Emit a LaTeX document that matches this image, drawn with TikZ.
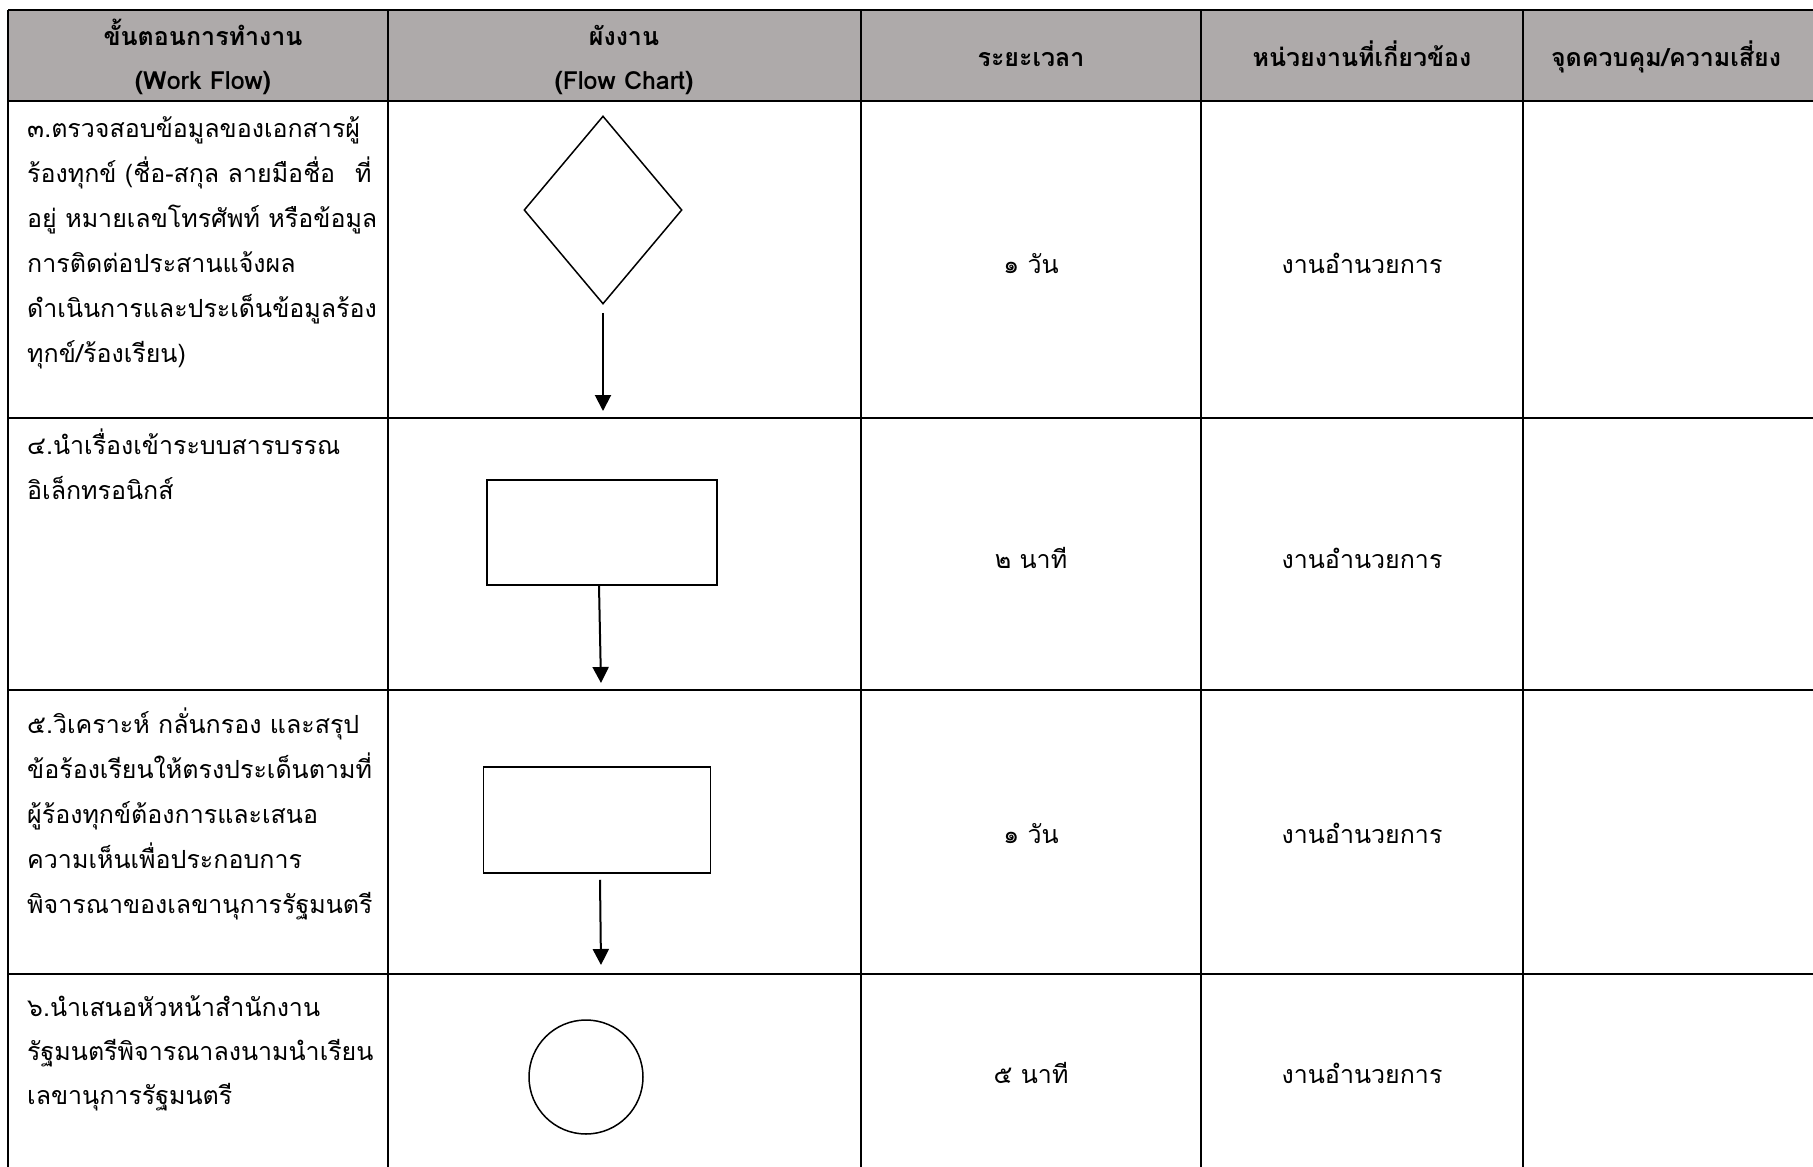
\documentclass[tikz,border=0pt]{standalone}
\usepackage{fontspec}
\newfontfamily\thaifont[Script=Thai]{Loma}
\usetikzlibrary{arrows.meta,shapes.geometric}
\definecolor{hdrgray}{HTML}{AEAAAA}
\tikzset{
  grid/.style={line width=2pt,black},
  txt/.style={font=\thaifont\fontsize{25}{45}\selectfont,inner sep=0pt,anchor=base west},
  ctxt/.style={font=\thaifont\fontsize{25}{45}\selectfont,inner sep=0pt,anchor=base},
  htxt/.style={font=\thaifont\bfseries\fontsize{25}{45}\selectfont,inner sep=0pt,anchor=base},
  shp/.style={draw,line width=1.5pt,inner sep=0pt},
  flow/.style={line width=2pt,-{Triangle[length=16pt,width=16pt]}}
}
\begin{document}
\begin{tikzpicture}[x=1pt,y=-1pt]
\useasboundingbox (0,0) rectangle (1813,1167);
% header
\fill[hdrgray] (8,9.5) rectangle (1813,101);
\draw[grid] (8,9.5) -- (1813,9.5);
\draw[grid] (8,101) -- (1813,101);
\draw[grid] (8,418) -- (1813,418);
\draw[grid] (8,690) -- (1813,690);
\draw[grid] (8,974) -- (1813,974);
\draw[grid] (8,9.5) -- (8,1167);
\draw[grid] (388,9.5) -- (388,1167);
\draw[grid] (861,9.5) -- (861,1167);
\draw[grid] (1201,9.5) -- (1201,1167);
\draw[grid] (1523,9.5) -- (1523,1167);
% header texts
\node[htxt] (h1a) at (203,45) {ขั้นตอนการทำงาน};
\node[htxt] (h1b) at (203,89) {(Work Flow)};
\node[htxt] (h2a) at (624,45) {ผังงาน};
\node[htxt] (h2b) at (624,89) {(Flow Chart)};
\node[htxt] (h3) at (1031,66) {ระยะเวลา};
\node[htxt] (h4) at (1362,66) {หน่วยงานที่เกี่ยวข้อง};
\node[htxt] (h5) at (1666,66) {จุดควบคุม/ความเสี่ยง};
% row 1 text
\node[txt] (r1a) at (27,137) {๓.ตรวจสอบข้อมูลของเอกสารผู้};
\node[txt] (r1b) at (27,182) {ร้องทุกข์ (ชื่อ-สกุล ลายมือชื่อ\hspace{20pt}ที่};
\node[txt] (r1c) at (27,227) {อยู่ หมายเลขโทรศัพท์ หรือข้อมูล};
\node[txt] (r1d) at (27,272) {การติดต่อประสานแจ้งผล};
\node[txt] (r1e) at (27,317) {ดำเนินการและประเด็นข้อมูลร้อง};
\node[txt] (r1f) at (27,362) {ทุกข์/ร้องเรียน)};
% row 2 text
\node[txt] (r2a) at (27,454) {๔.นำเรื่องเข้าระบบสารบรรณ};
\node[txt] (r2b) at (27,499) {อิเล็กทรอนิกส์};
% row 3 text
\node[txt] (r3a) at (27,733) {๕.วิเคราะห์ กลั่นกรอง และสรุป};
\node[txt] (r3b) at (27,778) {ข้อร้องเรียนให้ตรงประเด็นตามที่};
\node[txt] (r3c) at (27,823) {ผู้ร้องทุกข์ต้องการและเสนอ};
\node[txt] (r3d) at (27,868) {ความเห็นเพื่อประกอบการ};
\node[txt] (r3e) at (27,913) {พิจารณาของเลขานุการรัฐมนตรี};
% row 4 text
\node[txt] (r4a) at (27,1016) {๖.นำเสนอหัวหน้าสำนักงาน};
\node[txt] (r4b) at (27,1060) {รัฐมนตรีพิจารณาลงนามนำเรียน};
\node[txt] (r4c) at (27,1104) {เลขานุการรัฐมนตรี};
% time and unit
\node[ctxt] (t1) at (1031,273) {๑ วัน};
\node[ctxt] (t2) at (1031,568) {๒ นาที};
\node[ctxt] (t3) at (1031,843) {๑ วัน};
\node[ctxt] (t4) at (1031,1083) {๕ นาที};
\node[ctxt] (u1) at (1362,273) {งานอำนวยการ};
\node[ctxt] (u2) at (1362,568) {งานอำนวยการ};
\node[ctxt] (u3) at (1362,843) {งานอำนวยการ};
\node[ctxt] (u4) at (1362,1083) {งานอำนวยการ};
% shapes
\node[shp,diamond,minimum width=158pt,minimum height=188pt] (d1) at (603,210) {};
\node[shp,rectangle,minimum width=230pt,minimum height=105pt] (b1) at (602,532.5) {};
\node[shp,rectangle,minimum width=227pt,minimum height=106pt] (b2) at (597,820) {};
\node[shp,circle,minimum size=114pt] (c1) at (586,1077) {};
\coordinate (e1) at (603,411);
\coordinate (e2) at (601,683);
\coordinate (e3) at (601,965);
\draw[flow] ([yshift=-8pt]d1.south) -- (e1);
\draw[flow] ([xshift=-3pt]b1.south) -- (e2);
\draw[flow] ([xshift=3pt,yshift=-6pt]b2.south) -- (e3);
\end{tikzpicture}
\end{document}
